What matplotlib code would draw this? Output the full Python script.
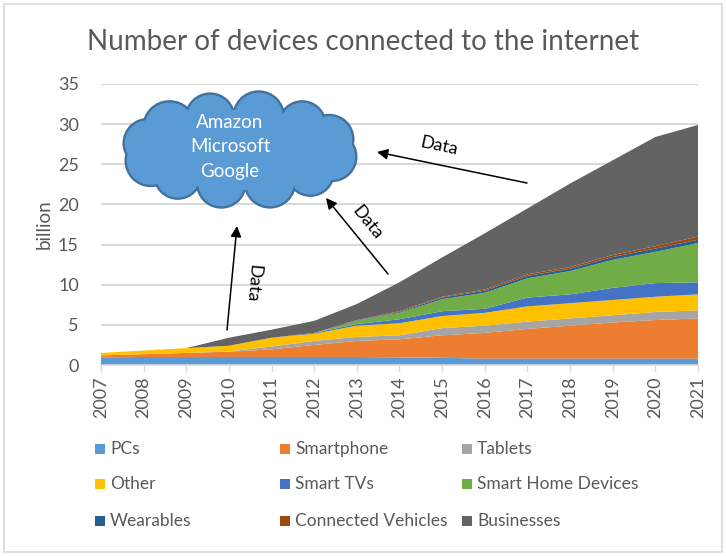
import matplotlib
matplotlib.use("Agg")
import numpy as np
import matplotlib.pyplot as plt
from matplotlib.patches import Circle, Ellipse, Rectangle

# Data (billion devices)
YEARS = list(range(2007, 2022))

PCS         = [0.95, 1.0, 1.0, 1.0, 1.0, 1.0, 1.0, 0.95, 0.9, 0.8, 0.8, 0.8, 0.8, 0.8, 0.8]
SMARTPHONE  = [0.25, 0.35, 0.5, 0.65, 0.95, 1.5, 2.0, 2.25, 2.8, 3.2, 3.7, 4.1, 4.5, 4.8, 5.0]
TABLETS     = [0.0, 0.0, 0.0, 0.05, 0.35, 0.5, 0.5, 0.5, 0.9, 0.9, 0.9, 0.9, 0.9, 1.0, 1.0]
OTHER       = [0.3, 0.45, 0.6, 0.7, 1.1, 0.9, 1.4, 1.5, 1.5, 1.6, 1.9, 1.9, 1.9, 1.9, 2.0]
SMART_TVS   = [0.0, 0.0, 0.0, 0.0, 0.0, 0.1, 0.2, 0.5, 0.6, 0.5, 1.1, 1.1, 1.5, 1.7, 1.5]
SMART_HOME  = [0.0, 0.0, 0.0, 0.0, 0.0, 0.0, 0.4, 0.8, 1.5, 2.0, 2.4, 2.9, 3.5, 3.9, 4.9]
WEARABLES   = [0.0, 0.0, 0.0, 0.0, 0.0, 0.0, 0.05, 0.1, 0.2, 0.25, 0.3, 0.3, 0.35, 0.4, 0.4]
VEHICLES    = [0.0, 0.0, 0.0, 0.0, 0.0, 0.0, 0.05, 0.1, 0.1, 0.15, 0.2, 0.2, 0.25, 0.3, 0.4]
BUSINESSES  = [0.0, 0.0, 0.0, 1.0, 1.0, 1.5, 2.0, 3.6, 4.9, 7.0, 8.2, 10.4, 11.8, 13.6, 13.9]

SERIES = [PCS, SMARTPHONE, TABLETS, OTHER, SMART_TVS, SMART_HOME,
          WEARABLES, VEHICLES, BUSINESSES]
LABELS = ["PCs", "Smartphone", "Tablets", "Other", "Smart TVs",
          "Smart Home Devices", "Wearables", "Connected Vehicles", "Businesses"]
COLORS = ["#5B9BD5", "#ED7D31", "#A5A5A5", "#FFC000", "#4472C4",
          "#70AD47", "#255E91", "#9E480E", "#636363"]

CLOUD_LINES = ["Amazon", "Microsoft", "Google"]
Y_TICKS = list(range(0, 40, 5))

# Colors
TEXT  = "#595959"
GRID  = "#D9D9D9"
CLOUD = "#5B9BD5"
CLOUD_EDGE = "#41719C"

W, H = 726, 556
plt.rcParams["font.family"] = ["Lato", "DejaVu Sans"]

fig = plt.figure(figsize=(W / 100, H / 100), dpi=100, facecolor="white")

# Main area chart
ax_l, ax_r, ax_t, ax_b = 101, 698, 84, 365
ax = fig.add_axes([ax_l / W, 1 - ax_b / H, (ax_r - ax_l) / W, (ax_b - ax_t) / H])
ax.stackplot(YEARS, *SERIES, colors=COLORS, labels=LABELS, lw=0)
ax.set_xlim(YEARS[0], YEARS[-1])
ax.set_ylim(0, 35)
ax.set_yticks(Y_TICKS)
ax.set_xticks(YEARS)
ax.set_xticklabels([str(y) for y in YEARS], rotation=90)
ax.tick_params(axis="y", length=0, pad=16, labelsize=13, labelcolor=TEXT)
ax.tick_params(axis="x", length=5, width=1, color=GRID, pad=3,
               labelsize=13, labelcolor=TEXT)
ax.grid(True, axis="y", color=GRID, lw=1.5)
ax.set_axisbelow(True)
for side in ["top", "right", "left"]:
    ax.spines[side].set_visible(False)
ax.spines["bottom"].set_color(GRID)
ax.spines["bottom"].set_linewidth(1.2)
ax.set_ylabel("billion", fontsize=13.5, color=TEXT)
ax.yaxis.set_label_coords((53 - ax_l) / (ax_r - ax_l), 0.5)

# Overlay in pixel space for title, cloud, arrows, legend, border
ov = fig.add_axes([0, 0, 1, 1], facecolor="none")
ov.set_xlim(0, W)
ov.set_ylim(H, 0)
ov.axis("off")

ov.add_patch(Rectangle((4, 4), W - 8, H - 8, fill=False, ec=GRID, lw=1.2))
ov.text(W / 2, 42, "Number of devices connected to the internet",
        ha="center", va="center", fontsize=20, color=TEXT)

# cloud: bumps around an ellipse, outlined first then refilled to hide inner edges
cx0, cy0 = 240, 150
ang = np.linspace(0, 2 * np.pi, 13)[:-1] + 0.2
rad = [24, 23, 25, 24, 23, 25, 24, 26, 24, 25, 23, 24]
bumps = [(cx0 + 94 * np.cos(a), cy0 + 34 * np.sin(a), r) for a, r in zip(ang, rad)]
for x, y, r in bumps:
    ov.add_patch(Circle((x, y), r, fc=CLOUD, ec=CLOUD_EDGE, lw=2.0))
for x, y, r in bumps:
    ov.add_patch(Circle((x, y), r - 1, fc=CLOUD, ec="none"))
ov.add_patch(Ellipse((cx0, cy0), 200, 80, fc=CLOUD, ec="none"))
ov.text(230, 147, "\n".join(CLOUD_LINES), ha="center", va="center",
        fontsize=13.5, color="white", linespacing=1.5)

# arrows
arrow = dict(arrowstyle="-|>", color="black", lw=1.1, mutation_scale=16,
             shrinkA=0, shrinkB=0)
ov.annotate("", xy=(237, 226), xytext=(227, 330), arrowprops=arrow)
ov.annotate("", xy=(326, 198), xytext=(388, 274), arrowprops=arrow)
ov.annotate("", xy=(377, 152), xytext=(527, 183), arrowprops=arrow)
ov.text(253, 283, "Data", rotation=-95, ha="center", va="center",
        fontsize=13, color="black")
ov.text(367, 223, "Data", rotation=-51, ha="center", va="center",
        fontsize=13, color="black")
ov.text(439, 146, "Data", rotation=-12, ha="center", va="center",
        fontsize=13, color="black")

# legend, 3 columns laid out like the Excel one
col_x = [95, 280, 462]
row_y = [449, 484, 521]
for i, (lab, col) in enumerate(zip(LABELS, COLORS)):
    x, y = col_x[i % 3], row_y[i // 3]
    ov.add_patch(Rectangle((x, y - 5), 10, 10, fc=col, ec="none"))
    ov.text(x + 15, y, lab, ha="left", va="center", fontsize=12.5, color=TEXT)

fig.savefig("out.png", dpi=100, facecolor="white")
